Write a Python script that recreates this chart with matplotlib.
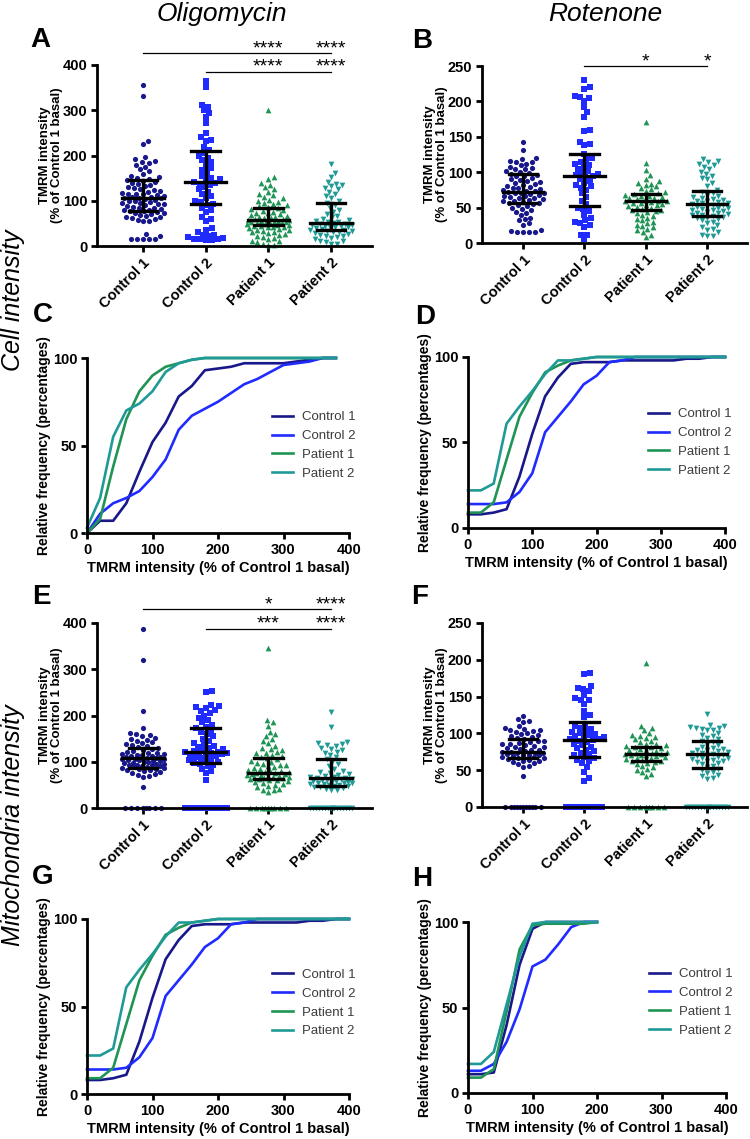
import numpy as np
import matplotlib.pyplot as plt

plt.rcParams['font.family'] = ['Liberation Sans', 'DejaVu Sans']

W, H = 750, 1139

groups = ['Control 1', 'Control 2', 'Patient 1', 'Patient 2']
colors = ['#18188a', '#1f2bff', '#1f9455', '#1f9a96']
markers = ['o', 's', '^', 'v']
msize = [14, 13, 17, 17]

# ---- A: oligomycin, cell intensity ----
a_c1 = [355, 332, 233, 225, 197, 192, 188, 186, 184, 180, 175, 170, 165, 160, 155, 152,
        150, 148, 146, 144, 142, 140, 138, 135, 132, 130, 128, 126, 124, 122, 120, 118,
        116, 115, 114, 112, 110, 109, 108, 107, 106, 105, 104, 102, 100, 99, 98, 96, 95,
        93, 92, 90, 88, 86, 85, 84, 82, 80, 79, 78, 77, 75, 74, 72, 70, 68, 66, 64, 63,
        62, 60, 58, 56, 55, 26, 22, 16, 15, 15, 15, 15]
a_c2 = [365, 352, 312, 308, 300, 295, 285, 272, 250, 240, 235, 232, 218, 212, 205, 200,
        195, 190, 185, 180, 172, 168, 162, 155, 150, 148, 145, 142, 140, 138, 135, 130,
        125, 120, 115, 110, 105, 100, 97, 93, 90, 85, 80, 75, 65, 60, 55, 40, 35, 30, 25,
        24, 22, 20, 18, 15, 15, 14, 14, 15]
a_p1 = [300, 153, 148, 140, 135, 130, 125, 120, 115, 112, 108, 105, 102, 100, 98, 95, 92,
        90, 88, 86, 84, 82, 80, 78, 76, 74, 72, 70, 68, 66, 65, 64, 62, 61, 60, 59, 58, 57,
        56, 55, 55, 54, 53, 52, 51, 50, 50, 49, 48, 47, 46, 45, 44, 43, 42, 41, 40, 38, 36,
        35, 34, 32, 30, 28, 26, 25, 22, 20, 18, 15, 12, 10, 8, 5, 3, 2]
a_p2 = [182, 162, 152, 142, 138, 135, 132, 128, 125, 120, 115, 110, 105, 100, 96, 90, 85,
        80, 75, 70, 66, 63, 60, 58, 55, 53, 52, 50, 49, 48, 47, 46, 45, 44, 43, 42, 41, 40,
        38, 36, 35, 34, 33, 32, 30, 28, 26, 25, 23, 22, 20, 18, 15, 12, 10, 8, 5, 5]
a_median = [107, 142, 57, 50]
a_q1 = [77, 93, 46, 35]
a_q3 = [145, 210, 85, 96]

# ---- B: rotenone, cell intensity ----
b_c1 = [142, 132, 120, 118, 116, 115, 114, 112, 110, 108, 106, 105, 104, 102, 100, 99, 98,
        96, 95, 94, 92, 90, 89, 88, 86, 85, 84, 82, 80, 79, 78, 77, 76, 75, 74, 73, 72, 71,
        70, 70, 69, 68, 67, 66, 65, 64, 63, 62, 61, 60, 59, 58, 57, 56, 55, 54, 52, 50, 48,
        46, 44, 42, 40, 36, 34, 32, 28, 26, 18, 17, 16, 16, 16, 16]
b_c2 = [230, 220, 218, 208, 206, 205, 200, 192, 185, 178, 160, 158, 143, 140, 138, 126, 120,
        118, 115, 112, 110, 108, 105, 102, 100, 98, 96, 95, 93, 90, 88, 85, 82, 80, 78, 75,
        70, 65, 60, 55, 50, 48, 45, 40, 35, 32, 30, 28, 25, 22, 12, 12, 5]
b_p1 = [171, 113, 103, 96, 90, 87, 85, 84, 82, 80, 78, 76, 74, 72, 70, 69, 68, 67, 66, 65,
        64, 63, 62, 61, 60, 60, 59, 58, 57, 56, 55, 54, 53, 52, 51, 50, 48, 47, 46, 45, 44,
        42, 40, 38, 36, 34, 32, 30, 28, 26, 24, 22, 20, 18, 15, 12, 8]
b_p2 = [118, 116, 114, 112, 110, 108, 105, 100, 98, 95, 92, 90, 85, 80, 75, 72, 70, 68, 66,
        65, 64, 62, 61, 60, 59, 58, 57, 56, 55, 54, 53, 52, 51, 50, 49, 48, 47, 46, 45, 44,
        43, 42, 41, 40, 39, 38, 37, 36, 35, 34, 32, 30, 28, 25, 22, 20, 18, 15, 12, 10, 10]
b_median = [72, 94, 59, 55]
b_q1 = [57, 52, 46, 38]
b_q3 = [97, 126, 69, 74]

# ---- E: oligomycin, mitochondria intensity ----
e_c1 = [388, 320, 210, 172, 162, 160, 158, 155, 152, 150, 148, 145, 142, 140, 138, 136, 134,
        132, 130, 128, 126, 124, 122, 120, 118, 117, 116, 115, 114, 113, 112, 111, 110, 109,
        108, 107, 106, 105, 104, 103, 102, 101, 100, 99, 98, 97, 96, 95, 94, 93, 92, 91, 90,
        89, 88, 87, 86, 85, 84, 83, 82, 80, 78, 76, 74, 72, 70, 68, 45,
        0, 0, 0, 0, 0, 0, 0, 0]
e_c2 = [252, 250, 222, 220, 218, 216, 212, 210, 205, 200, 195, 190, 185, 180, 175, 172, 168,
        165, 160, 155, 150, 145, 140, 138, 135, 132, 130, 128, 126, 124, 122, 121, 120, 119,
        118, 117, 116, 115, 112, 110, 108, 106, 104, 102, 100, 98, 96, 94, 90, 85, 80, 75, 60,
        0, 0, 0, 0, 0, 0, 0, 0, 0, 0, 0, 0, 0, 0, 0, 0]
e_p1 = [345, 190, 185, 178, 165, 160, 155, 150, 145, 140, 135, 130, 127, 125, 122, 120, 118,
        115, 112, 110, 108, 105, 102, 100, 98, 96, 94, 92, 90, 88, 86, 84, 82, 80, 79, 78, 77,
        76, 75, 74, 73, 72, 71, 70, 69, 68, 67, 66, 65, 64, 63, 62, 61, 60, 58, 56, 54, 52,
        50, 48, 45, 42, 40, 38, 35, 0, 0, 0, 0, 0, 0, 0, 0, 0]
e_p2 = [208, 175, 142, 140, 138, 136, 135, 130, 128, 125, 122, 120, 115, 110, 105, 100, 95,
        90, 85, 80, 78, 76, 74, 72, 70, 68, 66, 65, 64, 63, 62, 61, 60, 59, 58, 57, 56, 55,
        54, 53, 52, 51, 50, 49, 48, 47, 46, 45, 44, 42, 40, 38,
        0, 0, 0, 0, 0, 0, 0, 0, 0, 0, 0, 0, 0, 0, 0, 0]
e_median = [108, 122, 76, 65]
e_q1 = [87, 98, 62, 48]
e_q3 = [130, 172, 108, 107]

# ---- F: rotenone, mitochondria intensity ----
f_c1 = [124, 120, 117, 116, 110, 108, 106, 105, 104, 103, 102, 100, 99, 98, 96, 95, 94, 92,
        90, 89, 88, 87, 86, 85, 84, 83, 82, 81, 80, 79, 78, 77, 76, 75, 75, 74, 74, 73, 72,
        71, 70, 70, 69, 68, 68, 67, 66, 65, 64, 63, 62, 61, 60, 58, 56, 54, 42,
        0, 0, 0, 0, 0, 0, 0, 0, 0, 0, 0]
f_c2 = [182, 181, 164, 162, 160, 157, 152, 148, 146, 145, 140, 130, 125, 122, 112, 110, 108,
        106, 104, 102, 100, 99, 98, 96, 95, 94, 93, 92, 91, 90, 88, 86, 84, 82, 80, 78, 76,
        74, 72, 70, 68, 66, 64, 62, 60, 55, 48, 40, 35,
        0, 0, 0, 0, 0, 0, 0, 0, 0, 0, 0, 0, 0]
f_p1 = [195, 110, 107, 104, 100, 98, 96, 95, 94, 92, 90, 88, 86, 85, 84, 83, 82, 81, 80, 79,
        78, 77, 76, 75, 74, 73, 72, 72, 71, 70, 70, 69, 68, 67, 66, 65, 64, 63, 62, 61, 60,
        58, 56, 54, 52, 50, 48, 45, 42, 0, 0, 0, 0, 0, 0, 0, 0]
f_p2 = [126, 111, 110, 109, 108, 107, 106, 105, 104, 100, 98, 96, 94, 92, 90, 88, 86, 84,
        82, 80, 79, 78, 77, 76, 75, 74, 73, 72, 71, 70, 69, 68, 67, 66, 65, 64, 63, 62, 61,
        60, 58, 56, 54, 52, 50, 48, 46, 44, 42, 40, 38,
        0, 0, 0, 0, 0, 0, 0, 0, 0, 0, 0, 0, 0, 0, 0, 0]
f_median = [75, 91, 72, 72]
f_q1 = [67, 68, 63, 53]
f_q3 = [92, 115, 82, 89]

# ---- cumulative frequency curves ----
c_x = [0, 20, 40, 60, 80, 100, 120, 140, 160, 180, 200, 220, 240, 260, 280, 300, 320, 340, 360, 380]
c_c1 = [0, 7, 7, 17, 35, 52, 63, 78, 84, 93, 94, 95, 97, 97, 97, 97, 98, 99, 100, 100]
c_c2 = [0, 11, 17, 20, 24, 32, 42, 59, 67, 71, 75, 80, 85, 88, 92, 96, 97, 98, 100, 100]
c_p1 = [0, 8, 38, 65, 81, 90, 95, 97, 99, 100, 100, 100, 100, 100, 100, 100, 100, 100, 100, 100]
c_p2 = [3, 20, 55, 70, 74, 81, 92, 97, 99, 100, 100, 100, 100, 100, 100, 100, 100, 100, 100, 100]

d_x = [0, 20, 40, 60, 80, 100, 120, 140, 160, 180, 200, 220, 240, 260, 280, 300, 320, 340, 360, 380, 400]
d_c1 = [8, 8, 9, 11, 30, 55, 77, 88, 96, 97, 97, 97, 98, 98, 98, 98, 98, 99, 99, 100, 100]
d_c2 = [14, 14, 14, 15, 21, 32, 56, 65, 74, 84, 89, 97, 98, 100, 100, 100, 100, 100, 100, 100, 100]
d_p1 = [9, 9, 15, 40, 65, 79, 91, 95, 98, 99, 100, 100, 100, 100, 100, 100, 100, 100, 100, 100, 100]
d_p2 = [22, 22, 26, 61, 71, 80, 90, 98, 98, 99, 100, 100, 100, 100, 100, 100, 100, 100, 100, 100, 100]

g_x = d_x
g_c1 = [8, 8, 9, 11, 30, 55, 77, 88, 96, 97, 97, 97, 98, 98, 98, 98, 98, 99, 99, 100, 100]
g_c2 = [14, 14, 14, 15, 21, 32, 56, 65, 74, 84, 89, 97, 98, 100, 100, 100, 100, 100, 100, 100, 100]
g_p1 = [9, 9, 15, 40, 65, 79, 91, 95, 98, 99, 100, 100, 100, 100, 100, 100, 100, 100, 100, 100, 100]
g_p2 = [22, 22, 26, 61, 71, 80, 90, 98, 98, 99, 100, 100, 100, 100, 100, 100, 100, 100, 100, 100, 100]

h_x = [0, 20, 40, 60, 80, 100, 120, 140, 160, 180, 200]
h_c1 = [11, 11, 12, 40, 75, 96, 100, 100, 100, 100, 100]
h_c2 = [13, 13, 17, 30, 49, 74, 78, 87, 97, 100, 100]
h_p1 = [9, 9, 14, 48, 84, 98, 99, 99, 99, 99, 100]
h_p2 = [17, 17, 24, 52, 80, 99, 100, 100, 100, 100, 100]

xlabel = 'TMRM intensity (% of Control 1 basal)'


def px_axes(fig, left, top, right, bottom):
    return fig.add_axes([left / W, 1 - bottom / H, (right - left) / W, (bottom - top) / H])


def style(ax):
    for s in ['top', 'right']:
        ax.spines[s].set_visible(False)
    for s in ['left', 'bottom']:
        ax.spines[s].set_linewidth(2)
    ax.tick_params(width=2, length=4.5, labelsize=10.5, pad=2.5)
    for lab in ax.get_xticklabels() + ax.get_yticklabels():
        lab.set_fontweight('bold')


def beeswarm(vals, ppu_x, ppu_y, d=5.6, maxw=21):
    # place points one by one (low to high) at the free offset nearest the centre, in pixels
    vals = np.asarray(vals, float)
    order = np.argsort(vals, kind='stable')
    cands = np.arange(0, maxw + 0.5, 0.5)
    cands = np.concatenate([[0], np.ravel(np.column_stack([cands[1:], -cands[1:]]))])
    px, py = [], []
    xs = np.zeros_like(vals)
    for k in order:
        y = vals[k] * ppu_y
        c = 0.0
        if px:
            ax_ = np.array(px)
            ay_ = np.array(py)
            near = np.abs(ay_ - y) < d
            if near.any():
                dx = cands[:, None] - ax_[near][None, :]
                dy = (ay_[near] - y)[None, :]
                mind = np.sqrt(dx ** 2 + dy ** 2).min(axis=1)
                ok = np.where(mind >= d)[0]
                c = cands[ok[0]] if len(ok) else cands[np.argmax(mind)]
        px.append(c)
        py.append(y)
        xs[k] = c / ppu_x
    return xs


def dot_panel(ax, data, med, q1, q3, ymax, ystep, axis_px, xlim, width_px):
    ppu_x = width_px / (xlim[1] - xlim[0])
    ppu_y = axis_px / ymax
    for i, vals in enumerate(data):
        xs = i + beeswarm(vals, ppu_x, ppu_y)
        ax.scatter(xs, vals, s=msize[i], marker=markers[i], color=colors[i],
                   linewidths=0, clip_on=False, zorder=2)
        ax.plot([i - 0.33, i + 0.33], [med[i], med[i]], color='k', lw=2.4, zorder=3)
        ax.plot([i, i], [q1[i], q3[i]], color='k', lw=2.4, zorder=3)
        for q in (q1[i], q3[i]):
            ax.plot([i - 0.23, i + 0.23], [q, q], color='k', lw=2.4, zorder=3)
    ax.set_xlim(*xlim)
    ax.set_ylim(0, ymax)
    ax.set_yticks(np.arange(0, ymax + 1, ystep))
    ax.set_xticks(range(4))
    ax.set_xticklabels(groups, rotation=45, ha='right', rotation_mode='anchor', fontsize=10)
    ax.set_ylabel('TMRM intensity\n(% of Control 1 basal)', fontsize=9.5, fontweight='bold',
                  va='center', linespacing=1.1)
    ax.yaxis.set_label_coords(-46 / width_px, 0.5)
    style(ax)


def sig(ax, x0, y, stars, ys):
    ax.plot([x0, 3], [y, y], color='k', lw=0.9, clip_on=False)
    for xi, st in zip((2, 3), stars):
        ax.text(xi, ys, st, ha='center', va='center', fontsize=14)


def cdf_panel(ax, x, curves, width_px):
    for i, yv in enumerate(curves):
        ax.plot(x, yv, color=colors[i], lw=1.9, label=groups[i], clip_on=False)
    ax.set_xlim(0, 400)
    ax.set_ylim(0, 100)
    ax.set_xticks([0, 100, 200, 300, 400])
    ax.set_yticks([0, 50, 100])
    ax.set_xlabel(xlabel, fontsize=10.5, fontweight='bold', labelpad=3)
    ax.set_ylabel('Relative frequency (percentages)', fontsize=10, fontweight='bold',
                  va='center')
    ax.yaxis.set_label_coords(-43 / width_px, 0.5)
    style(ax)


fig = plt.figure(figsize=(W / 100, H / 100), dpi=100)

xl_a = (-0.734, 3.654)
xl_b = (-0.67, 3.65)

ax = px_axes(fig, 97, 65, 372, 246)
dot_panel(ax, [a_c1, a_c2, a_p1, a_p2], a_median, a_q1, a_q3, 400, 100, 181, xl_a, 275)
sig(ax, 0, 426, ['****', '****'], 436)
sig(ax, 1, 385, ['****', '****'], 395)

ax = px_axes(fig, 482, 66, 747, 243)
dot_panel(ax, [b_c1, b_c2, b_p1, b_p2], b_median, b_q1, b_q3, 250, 50, 177, xl_b, 265)
sig(ax, 1, 250, ['*', '*'], 256)

ax = px_axes(fig, 97, 623, 372, 808)
dot_panel(ax, [e_c1, e_c2, e_p1, e_p2], e_median, e_q1, e_q3, 400, 100, 185, xl_a, 275)
sig(ax, 0, 430, ['*', '****'], 440)
sig(ax, 1, 387, ['***', '****'], 397)

ax = px_axes(fig, 482, 623, 747, 807)
dot_panel(ax, [f_c1, f_c2, f_p1, f_p2], f_median, f_q1, f_q3, 250, 50, 184, xl_b, 265)

legend_kw = dict(loc='center left', frameon=False, handlelength=1.6, fontsize=9.5,
                 labelcolor='#3c3c3c', borderaxespad=0, borderpad=0, labelspacing=0.5,
                 handletextpad=0.7)

ax = px_axes(fig, 87, 358, 349, 533)
cdf_panel(ax, c_x, [c_c1, c_c2, c_p1, c_p2], 262)
ax.legend(bbox_to_anchor=(0.706, 0.50), **legend_kw)

ax = px_axes(fig, 468, 357, 725, 528)
cdf_panel(ax, d_x, [d_c1, d_c2, d_p1, d_p2], 257)
ax.legend(bbox_to_anchor=(0.70, 0.50), **legend_kw)

ax = px_axes(fig, 87, 919, 349, 1094)
cdf_panel(ax, g_x, [g_c1, g_c2, g_p1, g_p2], 262)
ax.legend(bbox_to_anchor=(0.706, 0.52), **legend_kw)

ax = px_axes(fig, 468, 922, 726, 1093)
cdf_panel(ax, h_x, [h_c1, h_c2, h_p1, h_p2], 258)
ax.legend(bbox_to_anchor=(0.70, 0.53), **legend_kw)

# titles, row labels, panel letters
fig.text(222 / W, 1 - 14 / H, 'Oligomycin', ha='center', va='center', fontsize=19, style='italic')
fig.text(605 / W, 1 - 14 / H, 'Rotenone', ha='center', va='center', fontsize=19, style='italic')
fig.text(13 / W, 1 - 300 / H, 'Cell intensity', ha='center', va='center', fontsize=18,
         style='italic', rotation=90)
fig.text(13 / W, 1 - 825 / H, 'Mitochondria intensity', ha='center', va='center', fontsize=18,
         style='italic', rotation=90)
letters = [('A', 40, 40), ('B', 422, 41), ('C', 43, 315), ('D', 425, 317),
           ('E', 41, 597), ('F', 420, 597), ('G', 43, 877), ('H', 422, 879)]
for t, x, y in letters:
    fig.text(x / W, 1 - y / H, t, ha='center', va='center', fontsize=20, fontweight='bold')

fig.savefig('out.png', dpi=100)
